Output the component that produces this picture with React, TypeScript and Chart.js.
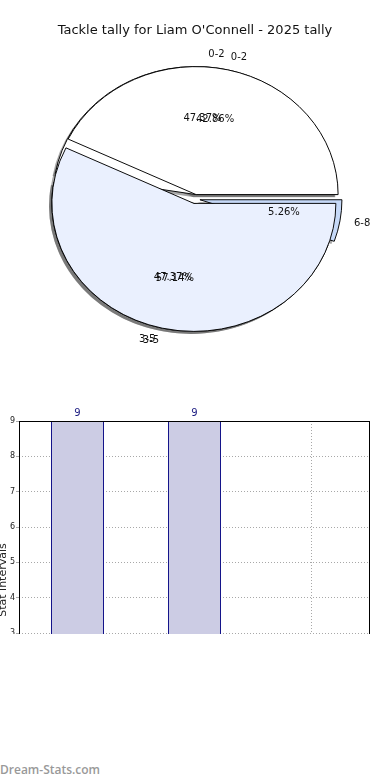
import React, { useEffect, useRef } from 'react';
import { Chart, registerables } from 'chart.js';

Chart.register(...registerables);

// ---- data ----
const chartTitle = "Tackle tally for Liam O'Connell - 2025 tally";
const intervalLabels = ['0-2', '3-5', '6-8'];
const tallyCounts = [9, 9, 1]; // first pie: 47.37%, 47.37%, 5.26%
const overlayLabels = ['0-2', '3-5'];
const overlayCounts = [3, 4]; // overlaid pie: 42.86%, 57.14%
const wedgeColors = ['#FFFFFF', '#EAF0FE', '#C6D9F8'];
const barValues = [9, 9, 1];
const yAxisMin = 0;
const yAxisMax = 9;
const yAxisTitle = 'Stat intervals';
const watermark = 'Dream-Stats.com';

// ---- style constants ----
const FONT = '"DejaVu Sans", sans-serif';
const PIE_R = 142;
const PIE_K = 128 / 142; // vertical squash of the pie
const EXPLODE = 5;
const SHADOW_X = -2.8;
const SHADOW_Y = 2.6;

const pieOrder = [...intervalLabels].reverse();

const pieDrawPlugin = {
  id: 'pieDraw',
  beforeDatasetsDraw(chart: any) {
    const ctx = chart.ctx as CanvasRenderingContext2D;
    const metas = chart.data.datasets.map((_: any, i: number) => chart.getDatasetMeta(i));
    const first = metas[0].data[0];
    const cx = first.x;
    const cy = first.y;
    const ell = () => {
      ctx.translate(cx, cy);
      ctx.scale(1, PIE_K);
      ctx.translate(-cx, -cy);
    };
    // shadows (under every wedge)
    ctx.save();
    ctx.translate(SHADOW_X, SHADOW_Y);
    ell();
    ctx.fillStyle = 'rgba(77,77,77,0.5)';
    metas.forEach((meta: any) =>
      meta.data.forEach((el: any) => {
        if (!el.circumference) return;
        const mid = (el.startAngle + el.endAngle) / 2;
        const ox = cx + Math.cos(mid) * EXPLODE;
        const oy = cy + Math.sin(mid) * EXPLODE;
        ctx.beginPath();
        ctx.moveTo(ox, oy);
        ctx.arc(ox, oy, PIE_R, el.startAngle, el.endAngle);
        ctx.closePath();
        ctx.fill();
      })
    );
    ctx.restore();
    // wedges
    metas.forEach((meta: any) =>
      meta.data.forEach((el: any) => {
        if (!el.circumference) return;
        const mid = (el.startAngle + el.endAngle) / 2;
        ctx.save();
        ell();
        ctx.translate(Math.cos(mid) * EXPLODE, Math.sin(mid) * EXPLODE);
        const o = el.outerRadius;
        const i = el.innerRadius;
        el.outerRadius = PIE_R;
        el.innerRadius = 0;
        el.draw(ctx);
        el.outerRadius = o;
        el.innerRadius = i;
        ctx.restore();
      })
    );
    return false;
  },
  afterDraw(chart: any) {
    const ctx = chart.ctx as CanvasRenderingContext2D;
    ctx.save();
    ctx.font = `10px ${FONT}`;
    ctx.fillStyle = '#111';
    chart.data.datasets.forEach((ds: any, di: number) => {
      const meta = chart.getDatasetMeta(di);
      const total = ds.data.reduce((a: number, b: number) => a + b, 0);
      meta.data.forEach((el: any, idx: number) => {
        const v = ds.data[idx];
        if (!v) return;
        const cx = el.x;
        const cy = el.y;
        const mid = (el.startAngle + el.endAngle) / 2;
        const c = Math.cos(mid);
        const s = Math.sin(mid);
        const lx = cx + c * (EXPLODE + 1.1 * PIE_R);
        const ly = cy + s * (EXPLODE + 1.1 * PIE_R) * PIE_K;
        ctx.textBaseline = 'middle';
        ctx.textAlign = c > 0 ? 'left' : 'right';
        ctx.fillText(chart.data.labels[idx], lx, ly);
        const px = cx + c * (EXPLODE + 0.6 * PIE_R);
        const py = cy + s * (EXPLODE + 0.6 * PIE_R) * PIE_K;
        ctx.textAlign = 'center';
        ctx.fillText(((v / total) * 100).toFixed(2) + '%', px, py);
      });
    });
    ctx.restore();
  },
};

const barExtrasPlugin = {
  id: 'barExtras',
  afterDraw(chart: any) {
    const ctx = chart.ctx as CanvasRenderingContext2D;
    const a = chart.chartArea;
    ctx.save();
    ctx.strokeStyle = '#000';
    ctx.lineWidth = 1;
    ctx.setLineDash([]);
    ctx.strokeRect(Math.round(a.left) + 0.5, Math.round(a.top) + 0.5, Math.round(a.right - a.left) - 1, Math.round(a.bottom - a.top));
    ctx.font = `10px ${FONT}`;
    ctx.fillStyle = '#1a1a80';
    ctx.textAlign = 'center';
    ctx.textBaseline = 'bottom';
    const meta = chart.getDatasetMeta(0);
    meta.data.forEach((bar: any, i: number) => {
      ctx.fillText(String(barValues[i]), bar.x, bar.y - 3);
    });
    ctx.restore();
  },
};

export default function App() {
  const pieRef = useRef<HTMLCanvasElement>(null);
  const barRef = useRef<HTMLCanvasElement>(null);

  useEffect(() => {
    const pieData0 = pieOrder.map((l) => tallyCounts[intervalLabels.indexOf(l)]);
    const pieData1 = pieOrder.map((l) => {
      const k = overlayLabels.indexOf(l);
      return k >= 0 ? overlayCounts[k] : 0;
    });
    const pieColors = pieOrder.map((l) => wedgeColors[intervalLabels.indexOf(l)]);

    const pie = new Chart(pieRef.current as HTMLCanvasElement, {
      type: 'pie',
      data: {
        labels: pieOrder,
        datasets: [
          { data: pieData0, backgroundColor: pieColors, borderColor: '#000', borderWidth: 1 },
          { data: pieData1, backgroundColor: pieColors, borderColor: '#000', borderWidth: 1 },
        ],
      },
      options: {
        responsive: false,
        animation: false,
        devicePixelRatio: 1,
        rotation: 90,
        events: [],
        layout: { padding: 0 },
        plugins: { legend: { display: false }, tooltip: { enabled: false }, title: { display: false } },
      },
      plugins: [pieDrawPlugin],
    } as any);

    const bar = new Chart(barRef.current as HTMLCanvasElement, {
      type: 'bar',
      data: {
        labels: intervalLabels,
        datasets: [
          {
            data: barValues,
            backgroundColor: '#CCCCE4',
            borderColor: '#14148A',
            borderWidth: 1,
            barPercentage: 53 / 117,
            categoryPercentage: 1,
          },
        ],
      },
      options: {
        responsive: false,
        animation: false,
        devicePixelRatio: 1,
        events: [],
        layout: { padding: { top: 21, right: 20, left: 0, bottom: 0 } },
        plugins: { legend: { display: false }, tooltip: { enabled: false } },
        scales: {
          x: {
            z: 1,
            grid: { offset: false, color: '#a8a8a8', tickLength: 3 },
            border: { display: false, dash: [1, 2] },
            ticks: { font: { size: 8, family: FONT }, color: '#222' },
            afterFit: (s: any) => {
              s.height = 41;
            },
          },
          y: {
            z: 1,
            min: yAxisMin,
            max: yAxisMax,
            ticks: { stepSize: 1, font: { size: 8, family: FONT }, color: '#222', padding: 1 },
            grid: { color: '#a8a8a8', tickLength: 3 },
            border: { display: false, dash: [1, 2] },
            title: {
              display: true,
              text: yAxisTitle,
              font: { size: 11, family: FONT, lineHeight: 0.55 },
              padding: 0,
              color: '#222',
            },
            afterFit: (s: any) => {
              s.width = 19;
            },
          },
        },
      },
      plugins: [barExtrasPlugin],
    } as any);

    return () => {
      pie.destroy();
      bar.destroy();
    };
  }, []);

  return (
    <div style={{ position: 'absolute', left: 0, top: 0, width: 390, height: 780, background: '#fff', overflow: 'hidden' }}>
      <canvas ref={pieRef} width={390} height={398} style={{ position: 'absolute', left: 0, top: 0 }} />
      <div
        style={{
          position: 'absolute',
          top: 22,
          left: 0,
          width: 390,
          textAlign: 'center',
          fontFamily: FONT,
          fontSize: 13,
          lineHeight: '16px',
          color: '#111',
        }}
      >
        {chartTitle}
      </div>
      <div style={{ position: 'absolute', left: 0, top: 400, width: 390, height: 234, overflow: 'hidden' }}>
        <canvas ref={barRef} width={390} height={380} style={{ display: 'block' }} />
      </div>
      <div
        style={{
          position: 'absolute',
          top: 762,
          left: 0,
          fontFamily: '"Open Sans", sans-serif',
          fontWeight: 600,
          fontSize: 12,
          lineHeight: '16px',
          color: '#999',
        }}
      >
        {watermark}
      </div>
    </div>
  );
}
